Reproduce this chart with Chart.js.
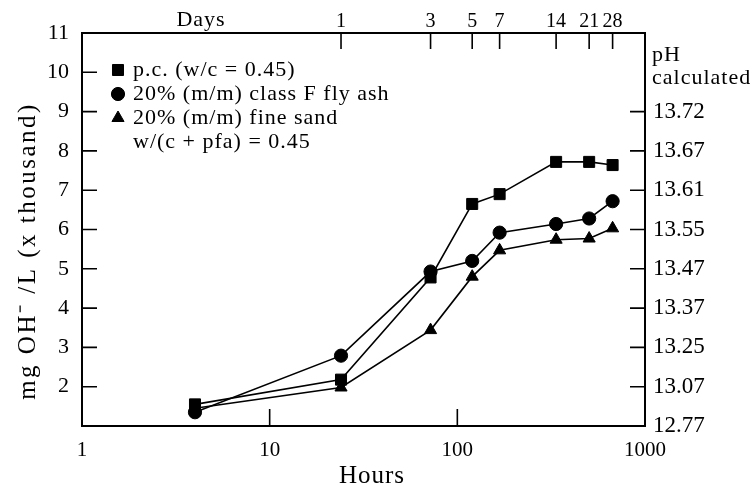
<!DOCTYPE html>
<html><head><meta charset="utf-8">
<script src="https://cdn.jsdelivr.net/npm/chart.js@4/dist/chart.umd.min.js"></script>
<style>html,body{margin:0;padding:0;background:#fff}#wrap{width:755px;height:490px}</style>
</head><body><div id="wrap"><canvas id="c" width="755" height="490"></canvas></div>
<script>
// ---- data ----
const hours = [4, 24, 72, 120, 168, 336, 504, 672];
const pcValues = [1.55, 2.18, 4.78, 6.65, 6.90, 7.72, 7.72, 7.64];
const flyAshValues = [1.35, 2.79, 4.93, 5.20, 5.92, 6.14, 6.28, 6.72];
const sandValues = [1.45, 1.98, 3.44, 4.80, 5.47, 5.74, 5.77, 6.03];
const seriesLabels = ['p.c. (w/c = 0.45)', '20% (m/m) class F fly ash', '20% (m/m) fine sand'];
const legendNote = 'w/(c + pfa) = 0.45';
const hourTicks = [1, 10, 100, 1000];
const dayTicks = [1, 3, 5, 7, 14, 21, 28];
const leftTicks = [2, 3, 4, 5, 6, 7, 8, 9, 10, 11];
const phTickValues = [1, 2, 3, 4, 5, 6, 7, 8, 9];
const phLabels = ['12.77', '13.07', '13.25', '13.37', '13.47', '13.55', '13.61', '13.67', '13.72'];

const SERIF = '"Liberation Serif", "Times New Roman", serif';
const pointStyles = ['rect', 'circle', 'triangle'];
const pointRadii = [7.8, 6.6, 7.0];

function makeSet(i, vals) {
  return {
    label: seriesLabels[i],
    data: hours.map((h, k) => ({ x: h, y: vals[k] })),
    borderColor: '#000', backgroundColor: '#000',
    borderWidth: 1.6, pointStyle: pointStyles[i],
    pointRadius: pointRadii[i], pointHoverRadius: pointRadii[i],
    pointBorderWidth: 1, tension: 0, xAxisID: 'x', yAxisID: 'y'
  };
}

function drawMarker(ctx, style, r, x, y) {
  ctx.save();
  ctx.fillStyle = '#000'; ctx.strokeStyle = '#000'; ctx.lineWidth = 1;
  if (window.Chart && Chart.helpers && Chart.helpers.drawPoint) {
    Chart.helpers.drawPoint(ctx, { pointStyle: style, radius: r, rotation: 0, borderWidth: 1 }, x, y);
  } else {
    ctx.beginPath(); ctx.arc(x, y, r, 0, Math.PI * 2); ctx.fill();
  }
  ctx.restore();
}

function spacedText(ctx, txt, x, y, spacing) {
  if ('letterSpacing' in ctx) { ctx.letterSpacing = spacing + 'px'; }
  ctx.fillText(txt, x, y);
  if ('letterSpacing' in ctx) { ctx.letterSpacing = '0px'; }
}

const decor = {
  id: 'decor',
  afterDraw(chart) {
    const ctx = chart.ctx, ca = chart.chartArea;
    const sx = chart.scales.x, sx2 = chart.scales.x2, sy = chart.scales.y, sy2 = chart.scales.y2;
    ctx.save();
    ctx.strokeStyle = '#000'; ctx.lineWidth = 1.6;
    ctx.beginPath();
    leftTicks.forEach(v => { if (v > 1 && v < 11) { const y = sy.getPixelForValue(v); ctx.moveTo(ca.left, y); ctx.lineTo(ca.left + 15, y); } });
    phTickValues.forEach(v => { if (v > 1) { const y = sy2.getPixelForValue(v); ctx.moveTo(ca.right, y); ctx.lineTo(ca.right - 15, y); } });
    hourTicks.forEach(v => { if (v > 1 && v < 1000) { const x = sx.getPixelForValue(v); ctx.moveTo(x, ca.bottom); ctx.lineTo(x, ca.bottom - 17); } });
    dayTicks.forEach(d => { const x = sx2.getPixelForValue(d * 24); ctx.moveTo(x, ca.top); ctx.lineTo(x, ca.top + 16); });
    ctx.stroke();

    ctx.fillStyle = '#000';
    ctx.textBaseline = 'middle';
    // top "Days"
    ctx.font = '22px ' + SERIF; ctx.textAlign = 'center';
    spacedText(ctx, 'Days', 201, 20, 1);
    // right title
    ctx.textAlign = 'left';
    spacedText(ctx, 'pH', 652, 55, 1);
    spacedText(ctx, 'calculated', 652, 78, 1);
    // bottom title
    ctx.font = '25px ' + SERIF; ctx.textAlign = 'center';
    spacedText(ctx, 'Hours', 372, 476, 1);
    // left title
    ctx.save();
    ctx.translate(28, 251); ctx.rotate(-Math.PI / 2);
    ctx.font = '25px ' + SERIF; ctx.textAlign = 'center';
    spacedText(ctx, 'mg OH\u207B /L (x thousand)', 0, 0, 2.5);
    ctx.restore();
    // legend
    const rows = [70, 94, 118];
    ctx.font = '22px ' + SERIF; ctx.textAlign = 'left';
    seriesLabels.forEach((lab, i) => {
      drawMarker(ctx, pointStyles[i], pointRadii[i], 118, rows[i]);
      spacedText(ctx, lab, 133, rows[i], 1);
    });
    spacedText(ctx, legendNote, 133, 142, 1);
    ctx.restore();
  }
};

new Chart(document.getElementById('c'), {
  type: 'line',
  data: { datasets: [makeSet(0, pcValues), makeSet(1, flyAshValues), makeSet(2, sandValues)] },
  options: {
    responsive: false, animation: false,
    layout: { padding: 0 },
    plugins: { legend: { display: false }, tooltip: { enabled: false } },
    scales: {
      x: {
        type: 'logarithmic', position: 'bottom', min: 1, max: 1000,
        afterBuildTicks: s => { s.ticks = hourTicks.map(v => ({ value: v })); },
        afterFit: s => { s.height = 64; },
        ticks: { callback: v => String(v), font: { family: SERIF, size: 21 }, color: '#000', padding: 4, autoSkip: false, maxRotation: 0 },
        grid: { display: false },
        border: { display: true, color: '#000', width: 2 }
      },
      x2: {
        type: 'logarithmic', position: 'top', min: 1, max: 1000,
        afterBuildTicks: s => { s.ticks = dayTicks.map(d => ({ value: d * 24 })); },
        afterFit: s => { s.height = 33; },
        ticks: { callback: v => String(Math.round(v / 24)), font: { family: SERIF, size: 20 }, color: '#000', padding: -9, autoSkip: false, maxRotation: 0 },
        grid: { display: false },
        border: { display: true, color: '#000', width: 2 }
      },
      y: {
        type: 'linear', position: 'left', min: 1, max: 11,
        afterBuildTicks: s => { s.ticks = leftTicks.map(v => ({ value: v })); },
        afterFit: s => { s.width = 82; },
        ticks: { callback: v => String(v), font: { family: SERIF, size: 22 }, color: '#000', padding: 5 },
        grid: { display: false },
        border: { display: true, color: '#000', width: 2 }
      },
      y2: {
        type: 'linear', position: 'right', min: 1, max: 11,
        afterBuildTicks: s => { s.ticks = phTickValues.map(v => ({ value: v })); },
        afterFit: s => { s.width = 110; },
        ticks: { callback: v => phLabels[phTickValues.indexOf(v)], font: { family: SERIF, size: 23 }, color: '#000', padding: 0 },
        grid: { display: false },
        border: { display: true, color: '#000', width: 2 }
      }
    }
  },
  plugins: [decor]
});
</script></body></html>
